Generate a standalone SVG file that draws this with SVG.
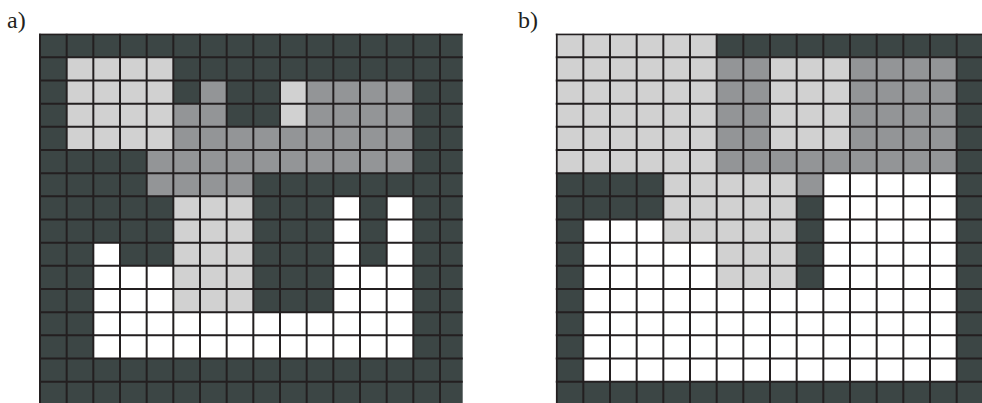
<svg xmlns="http://www.w3.org/2000/svg" width="982" height="403" viewBox="0 0 982 403">
<style>
.d{fill:#3c4645}
.m{fill:#939597}
.l{fill:#d1d1d1}
.w{fill:#ffffff}
.grid{fill:none;stroke:#231f20;stroke-width:2}
.lab{font-family:"Liberation Serif","Times New Roman",serif;font-size:24px;fill:#231f20}
</style>
<defs>
<clipPath id="clipA"><rect x="39" y="33.4" width="423.7" height="370"/></clipPath>
<clipPath id="clipB"><rect x="555.7" y="33.4" width="427" height="370"/></clipPath>
</defs>
<rect width="982" height="403" fill="#ffffff"/>
<text class="lab" x="7" y="28">a)</text>
<text class="lab" x="518" y="28">b)</text>
<g id="panel-a" clip-path="url(#clipA)">
<g transform="translate(40,34.17) scale(26.6667,23.1667)">
<rect class="d" x="0" y="0" width="17" height="17"/>
<rect class="l" x="1" y="1" width="4" height="4"/>
<rect class="m" x="6" y="2" width="1" height="1"/>
<rect class="l" x="9" y="2" width="1" height="2"/>
<rect class="m" x="10" y="2" width="4" height="2"/>
<rect class="m" x="5" y="3" width="2" height="1"/>
<rect class="m" x="5" y="4" width="9" height="1"/>
<rect class="m" x="4" y="5" width="10" height="1"/>
<rect class="m" x="4" y="6" width="4" height="1"/>
<rect class="l" x="5" y="7" width="3" height="5"/>
<rect class="w" x="11" y="7" width="1" height="5"/>
<rect class="w" x="13" y="7" width="1" height="5"/>
<rect class="w" x="12" y="10" width="1" height="2"/>
<rect class="w" x="2" y="9" width="1" height="3"/>
<rect class="w" x="3" y="10" width="2" height="2"/>
<rect class="w" x="2" y="12" width="12" height="2"/>
</g>
<path class="grid" d="M40 33V406M66.67 33V406M93.33 33V406M120 33V406M146.67 33V406M173.33 33V406M200 33V406M226.67 33V406M253.33 33V406M280 33V406M306.67 33V406M333.33 33V406M360 33V406M386.67 33V406M413.33 33V406M440 33V406M39 34.17H468M39 57.33H468M39 80.5H468M39 103.67H468M39 126.83H468M39 150H468M39 173.17H468M39 196.33H468M39 219.5H468M39 242.67H468M39 265.83H468M39 289H468M39 312.17H468M39 335.33H468M39 358.5H468M39 381.67H468"/>
</g>
<g id="panel-b" clip-path="url(#clipB)">
<g transform="translate(556.67,34.17) scale(26.6667,23.1667)">
<rect class="d" x="0" y="0" width="17" height="17"/>
<rect class="l" x="0" y="0" width="6" height="6"/>
<rect class="m" x="6" y="1" width="2" height="4"/>
<rect class="l" x="8" y="1" width="3" height="4"/>
<rect class="m" x="11" y="1" width="4" height="4"/>
<rect class="m" x="6" y="5" width="9" height="1"/>
<rect class="l" x="4" y="6" width="5" height="3"/>
<rect class="l" x="6" y="9" width="3" height="2"/>
<rect class="m" x="9" y="6" width="1" height="1"/>
<rect class="w" x="10" y="6" width="5" height="5"/>
<rect class="w" x="1" y="8" width="3" height="1"/>
<rect class="w" x="1" y="9" width="5" height="2"/>
<rect class="w" x="1" y="11" width="14" height="4"/>
</g>
<path class="grid" d="M556.67 33V406M583.33 33V406M610 33V406M636.67 33V406M663.33 33V406M690 33V406M716.67 33V406M743.33 33V406M770 33V406M796.67 33V406M823.33 33V406M850 33V406M876.67 33V406M903.33 33V406M930 33V406M956.67 33V406M555 34.17H984M555 57.33H984M555 80.5H984M555 103.67H984M555 126.83H984M555 150H984M555 173.17H984M555 196.33H984M555 219.5H984M555 242.67H984M555 265.83H984M555 289H984M555 312.17H984M555 335.33H984M555 358.5H984M555 381.67H984"/>
</g>
</svg>
